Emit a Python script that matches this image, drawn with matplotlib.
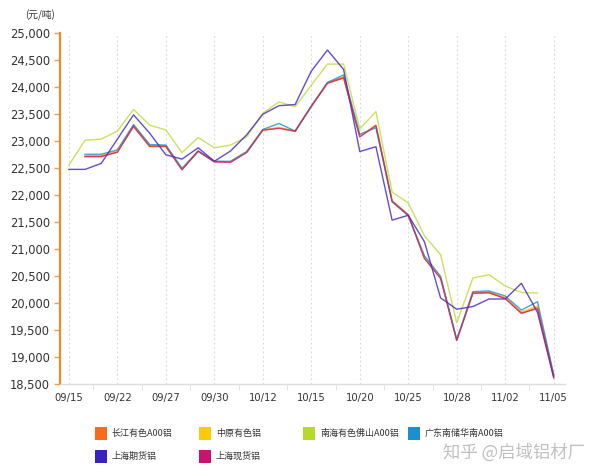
import numpy as np
import matplotlib
matplotlib.use("Agg")
import matplotlib.pyplot as plt
from matplotlib.patches import Rectangle

plt.rcParams['font.family'] = ['DejaVu Sans', 'Noto Sans CJK SC']

dates = ["09/15", "09/17", "09/18", "09/22", "09/23", "09/25", "09/27", "09/28", "09/29",
         "09/30", "10/09", "10/10", "10/12", "10/13", "10/14", "10/15", "10/16", "10/19",
         "10/20", "10/21", "10/23", "10/25", "10/26", "10/27", "10/28", "10/29", "10/30",
         "11/02", "11/03", "11/04", "11/05"]
nan = np.nan
changjiang = [nan, 22715, 22715, 22800, 23270, 22900, 22900, 22480, 22810, 22620, 22620, 22800,
              23200, 23250, 23180, 23640, 24070, 24170, 23090, 23300, 21900, 21630, 20840, 20470,
              19320, 20185, 20190, 20090, 19810, 19925, 18650]
zhongyuan = [nan, 22740, 22740, 22820, 23300, 22920, 22920, 22490, 22820, 22630, 22620, 22800,
             23210, 23260, 23190, 23650, 24080, 24200, 23100, 23290, 21900, 21630, 20860, 20480,
             19320, 20200, 20210, 20110, 19840, 19950, 18660]
nanhai = [22560, 23020, 23040, 23190, 23590, 23300, 23210, 22790, 23070, 22880, 22930, 23080,
          23520, 23730, 23640, 24040, 24430, 24430, 23230, 23550, 22060, 21860, 21250, 20900,
          19640, 20470, 20530, 20320, 20200, 20190, nan]
guangdong = [nan, 22760, 22760, 22840, 23310, 22940, 22930, 22500, 22820, 22630, 22630, 22810,
             23220, 23330, 23190, 23650, 24090, 24230, 23130, 23250, 21880, 21620, 20880, 20500,
             19330, 20215, 20230, 20135, 19875, 20030, 18680]
shfe = [22480, 22480, 22590, 23040, 23490, 23150, 22750, 22670, 22880, 22630, 22820, 23120,
        23500, 23660, 23680, 24300, 24690, 24330, 22810, 22900, 21540, 21630, 21140, 20100,
        19890, 19940, 20080, 20080, 20370, 19830, 18620]
shspot = [nan, 22720, 22720, 22800, 23280, 22910, 22910, 22470, 22820, 22620, 22610, 22790,
          23210, 23240, 23190, 23650, 24080, 24180, 23080, 23290, 21890, 21640, 20830, 20460,
          19310, 20190, 20200, 20090, 19820, 19900, 18640]

names = ["长江有色A00铝", "中原有色铝", "南海有色佛山A00铝", "广东南储华南A00铝", "上海期货铝", "上海现货铝"]
series = [changjiang, zhongyuan, nanhai, guangdong, shfe, shspot]
colors = ["#F96A1B", "#FBCB0A", "#B5DA2A", "#1C8FD0", "#3A22C0", "#C8146E"]
line_alpha = [0.85, 0.85, 0.75, 0.8, 0.8, 0.7]

yticks = list(range(18500, 25001, 500))

fig = plt.figure(figsize=(6.0, 4.73), dpi=100)
ax = fig.add_axes([0.1, 0.1875, 0.8417, 0.7421])

x = np.arange(len(dates))
for s, c, a in zip(series, colors, line_alpha):
    ax.plot(x, s, color=c, lw=1.0, alpha=a, zorder=3)

ax.set_xlim(-0.55, 30.7)
ax.set_ylim(18500, 25000)
ax.set_yticks(yticks)
ax.set_yticklabels([f"{v:,}" for v in yticks], fontsize=8.3, color="#333333")
major = x[::3]
ax.set_xticks(major)
ax.set_xticklabels([dates[i] for i in major], fontsize=7.2, color="#333333")
ax.set_xticks(major[:-1] + 1.5, minor=True)
ax.tick_params(axis='x', which='major', length=0, pad=6)
ax.tick_params(axis='x', which='minor', length=4, color="#DDDDDD", direction='out')
ax.tick_params(axis='y', length=4, color="#E8A060", width=1, pad=3)

for xi in major:
    ax.axvline(xi, color="#D8D8D8", lw=0.8, ls=(0, (1.5, 2.5)), zorder=1)

for sp in ["top", "right"]:
    ax.spines[sp].set_visible(False)
ax.spines["left"].set_color("#F08A24")
ax.spines["left"].set_linewidth(1.6)
ax.spines["bottom"].set_color("#DDDDDD")
ax.spines["bottom"].set_linewidth(1.0)

fig.text(25 / 600, 1 - 15 / 473, "(元/吨)", fontsize=7, color="#333333",
         va="center", ha="left", family=['Noto Sans CJK SC', 'DejaVu Sans'])

# legend (manual layout)
col_x = [95, 199, 303, 408]
row_y = [433, 456]
order = [(0, 0, 0), (1, 0, 1), (2, 0, 2), (3, 0, 3), (4, 1, 0), (5, 1, 1)]
for idx, r, cidx in order:
    x0 = col_x[cidx]
    y0 = row_y[r]
    fig.add_artist(Rectangle((x0 / 600, 1 - (y0 + 6.5) / 473), 12 / 600, 13 / 473,
                             transform=fig.transFigure, facecolor=colors[idx],
                             edgecolor="none"))
    fig.text((x0 + 17) / 600, 1 - y0 / 473, names[idx], fontsize=6.5, color="#333333",
             va="center", ha="left", family=['Noto Sans CJK SC', 'DejaVu Sans'])

fig.text(585 / 600, 1 - 453 / 473, "知乎 @启域铝材厂", fontsize=12.5, color="#C0C0C0",
         va="center", ha="right", family=['Noto Sans CJK SC', 'DejaVu Sans'])

fig.savefig("out.png", dpi=100)
